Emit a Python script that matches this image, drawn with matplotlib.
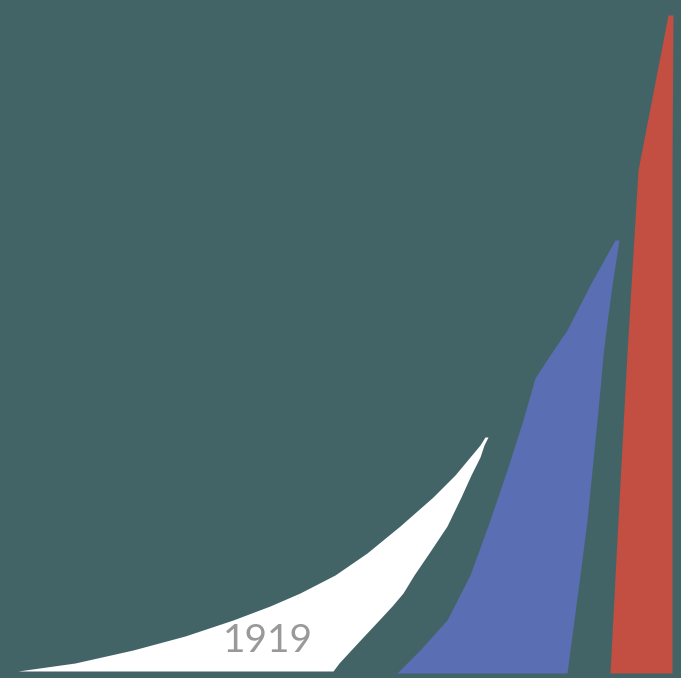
import matplotlib
matplotlib.use("Agg")
import matplotlib.pyplot as plt

# three growth "sails", edges (pixel rows, top = 0)
white_y = [671, 663, 650, 636, 620, 606, 593, 575, 553, 526, 497, 475, 457, 445, 437]
white_left = [18, 75, 133, 185, 233, 270, 300, 335, 367, 400, 433, 455, 470, 480, 485]
white_right = [333, 339, 351, 364, 379, 392, 403, 414, 429, 447, 461, 471, 480, 484, 488]

blue_y = [673, 650, 620, 575, 520, 470, 420, 378, 355, 330, 285, 240]
blue_left = [397, 420, 447, 470, 490, 507, 523, 535, 550, 567, 590, 615]
blue_right = [567, 570, 574, 580, 587, 592, 597, 601, 603, 606, 612, 619]

red_y = [673, 520, 353, 170, 15]
red_left = [610, 618, 627, 638, 668]
red_right = [672, 672, 672, 672, 673]

label = "1919"

bg = "#436466"

fig = plt.figure(figsize=(6.81, 6.78), dpi=100)
fig.patch.set_facecolor(bg)
ax = fig.add_axes([0, 0, 1, 1])
ax.set_facecolor(bg)

ax.fill_betweenx(white_y, white_left, white_right, color="white", lw=0)
ax.fill_betweenx(blue_y, blue_left, blue_right, color="#5a6eb3", lw=0)
ax.fill_betweenx(red_y, red_left, red_right, color="#c24f42", lw=0)

ax.text(268, 641, label, color="#999999", fontsize=28, family="Lato",
        ha="center", va="center")

ax.set_xlim(0, 681)
ax.set_ylim(678, 0)
ax.axis('off')

fig.savefig("out.png", dpi=100, facecolor=bg)
